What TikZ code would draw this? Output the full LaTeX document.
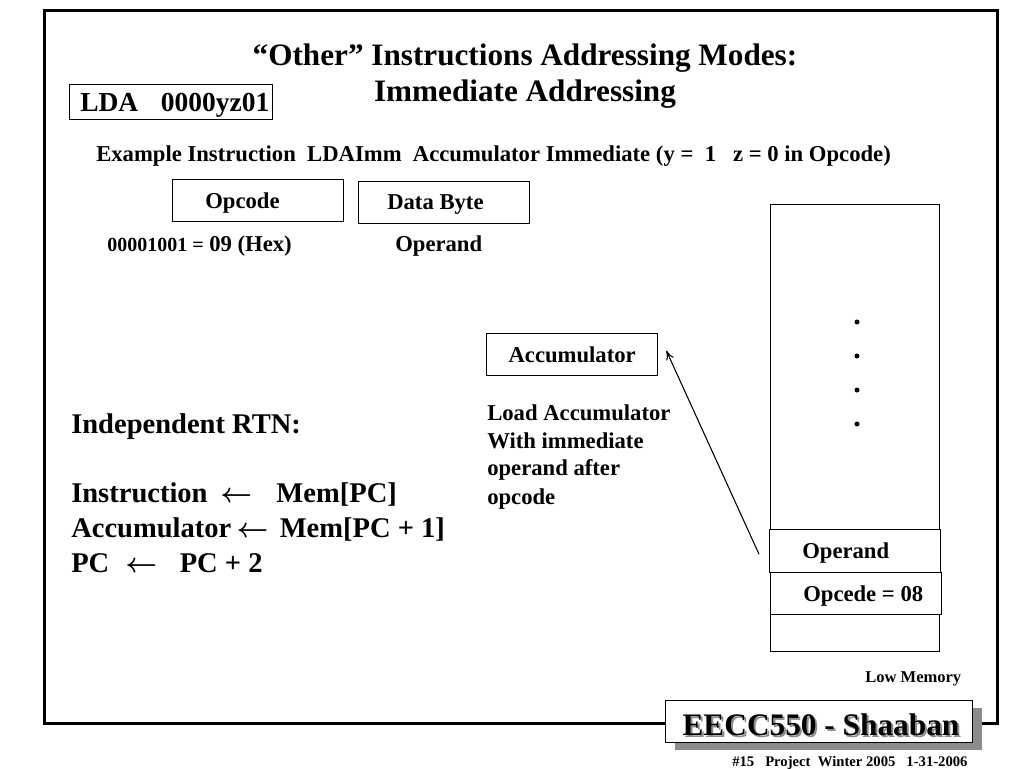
\documentclass[tikz,border=0pt]{standalone}
\usepackage{fontspec}
\setmainfont{Liberation Serif}
\usetikzlibrary{calc}
\usetikzlibrary{arrows.meta}

\newcommand\bodysize{\bfseries\fontsize{17pt}{20pt}\selectfont}
\newcommand\titlesize{\bfseries\fontsize{23.4pt}{28pt}\selectfont}
\newcommand\rtnsize{\bfseries\boldmath\fontsize{21.4pt}{26pt}\selectfont}

\tikzset{
  cell/.style 2 args={draw, line width=1pt, inner sep=0pt, anchor=north west,
    minimum width=#1*0.75pt, minimum height=#2*0.75pt},
  txt/.style={anchor=base west, inner sep=0pt, font=\bodysize},
  rtn/.style={anchor=base west, inner sep=0pt, font=\rtnsize},
}

\begin{document}
\begin{tikzpicture}[x=0.75pt,y=-0.75pt]
\useasboundingbox (0,0) rectangle (1024,768);
\definecolor{ShadowGray}{gray}{0.55}

%frame
\draw[line width=2.25pt] (44,10) rectangle (997,723);

\node[anchor=base, inner sep=0pt, font=\titlesize] (title1) at (525,65) {“Other” Instructions Addressing Modes:};
\node[anchor=base, inner sep=0pt, font=\titlesize] (title2) at (525,101) {Immediate Addressing};

\node[cell={203}{35}] (lda) at (69,84) {};
\node[anchor=base west, inner sep=0pt, font=\bfseries\fontsize{20.6pt}{24pt}\selectfont] (ldatxt) at (80,111) {LDA\hspace{17pt}0000yz01};

\node[txt] (example) at (96,161) {Example Instruction~ LDAImm~ Accumulator Immediate (y =~ 1~~ z = 0 in Opcode)};

% instruction format
\node[cell={171}{42}] (opcode) at (172,179) {};
\node[txt] (opcodetxt) at (205,208) {Opcode};
\node[cell={171}{42}] (databyte) at (358,181) {};
\node[txt] (databytetxt) at (387,209) {Data Byte};
\node[txt] (hex) at (107,251) {{\fontsize{15pt}{18pt}\selectfont 00001001 =} 09 (Hex)};
\node[txt] (operand) at (395,251) {Operand};

\node[cell={171}{42}, font=\bodysize] (acc) at (486,333) {Accumulator};
\node[txt] (load1) at (487,420) {Load Accumulator};
\node[txt] (load2) at (487,448) {With immediate};
\node[txt] (load3) at (487,475) {operand after};
\node[txt] (load4) at (487,504) {opcode};

% RTN
\node[rtn] (rtn) at (71,433) {Independent RTN:};
\node[rtn] (rtn1) at (71,502) {Instruction\hspace{9.5pt}$\leftarrow$\hspace{18.3pt}Mem[PC]};
\node[rtn] (rtn2) at (71,537) {Accumulator\hspace{4pt}$\leftarrow$\hspace{8.5pt}Mem[PC + 1]};
\node[rtn] (rtn3) at (71,572) {PC\hspace{12pt}$\leftarrow$\hspace{17pt}PC + 2};

% memory
\node[cell={169}{447}] (mem) at (770,204) {};
\filldraw (857,322) circle (2.2);
\filldraw (857,356) circle (2.2);
\filldraw (857,390) circle (2.2);
\filldraw (857,424) circle (2.2);
\node[cell={171}{43}, fill=white] (opd) at (769,529) {};
\node[txt] (opdtxt) at (802,558) {Operand};
\node[cell={171}{42}, fill=white] (opc) at (770,572) {};
\node[txt] (opctxt) at (803,601) {Opcede = 08};
\node[anchor=base west, inner sep=0pt, font=\bfseries\fontsize{12.4pt}{15pt}\selectfont] (lowmem) at (865,682) {Low Memory};

\draw[-{To[length=7pt,width=6pt]}, line width=0.8pt] ($(opd.west)+(-10,3)$) -- ($(acc.east)+(8,-4)$);

% banner
\fill[ShadowGray] (675,708) rectangle (982,750);
\node[cell={307}{42}, fill=white] (banner) at (665,700) {};
\node[anchor=base, inner sep=0pt, font=\bfseries\fontsize{23.5pt}{28pt}\selectfont, ShadowGray] at (823,737) {EECC550 - Shaaban};
\node[anchor=base, inner sep=0pt, font=\bfseries\fontsize{23.5pt}{28pt}\selectfont] (bannertxt) at (821,735) {EECC550 - Shaaban};
\node[anchor=base west, inner sep=0pt, font=\bfseries\fontsize{11pt}{13pt}\selectfont] (footer) at (732,766) {\#15~~ Project~ Winter 2005~~ 1-31-2006};

\end{tikzpicture}
\end{document}
